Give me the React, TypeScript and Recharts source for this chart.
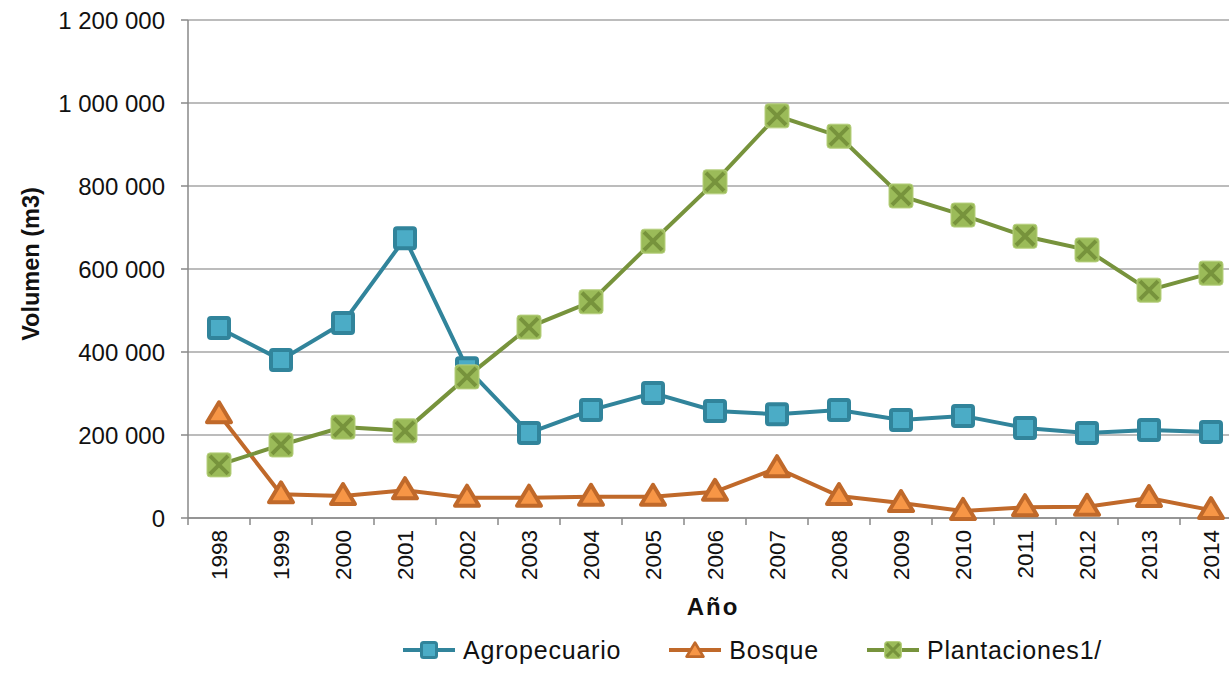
import { LineChart, Line, XAxis, YAxis, CartesianGrid, Legend } from "recharts";

const years = ["1998", "1999", "2000", "2001", "2002", "2003", "2004", "2005", "2006", "2007", "2008", "2009", "2010", "2011", "2012", "2013", "2014"];
const agropecuario = [458000, 381000, 470000, 674000, 361000, 205000, 260000, 301000, 258000, 250000, 260000, 236000, 246000, 217000, 205000, 212000, 207000];
const bosque = [250000, 57000, 53000, 67000, 49000, 49000, 51000, 51000, 63000, 120000, 53000, 36000, 17000, 26000, 27000, 48000, 19000];
const plantaciones = [128000, 176000, 219000, 210000, 340000, 460000, 521000, 667000, 810000, 969000, 920000, 776000, 730000, 679000, 646000, 549000, 590000];
const yTicks = [0, 200000, 400000, 600000, 800000, 1000000, 1200000];

const data = years.map((year, i) => ({
  year,
  agropecuario: agropecuario[i],
  bosque: bosque[i],
  plantaciones: plantaciones[i],
}));

const FONT = "'Liberation Sans', Arial, sans-serif";
const BAND = 62;

const fmt = (v: number) => v.toString().replace(/\B(?=(\d{3})+(?!\d))/g, " ");

function SquareDot({ cx, cy, s = 20 }: any) {
  if (cx == null || cy == null) return null;
  return <rect x={cx - s / 2} y={cy - s / 2} width={s} height={s} rx={2} fill="#4BACC6" stroke="#31849B" strokeWidth={s > 16 ? 4 : 3} />;
}

function TriangleDot({ cx, cy, s = 1 }: any) {
  if (cx == null || cy == null) return null;
  return (
    <polygon
      points={`${cx},${cy - 12 * s} ${cx + 12 * s},${cy + 8 * s} ${cx - 12 * s},${cy + 8 * s}`}
      fill="#F79646"
      stroke="#C0692A"
      strokeWidth={4 * s}
      strokeLinejoin="round"
    />
  );
}

function CrossDot({ cx, cy, s = 24 }: any) {
  if (cx == null || cy == null) return null;
  const h = s / 2;
  const d = h * 0.75;
  return (
    <g>
      <rect x={cx - h} y={cy - h} width={s} height={s} rx={3} fill="#9BBB59" stroke="#B7D07F" strokeWidth={1} />
      <path d={`M${cx - d},${cy - d} L${cx + d},${cy + d} M${cx + d},${cy - d} L${cx - d},${cy + d}`} stroke="#77933C" strokeWidth={s > 18 ? 4 : 3} />
    </g>
  );
}

function YearTick({ x, y, payload }: any) {
  return (
    <g>
      <line x1={x - BAND / 2} y1={y - 8} x2={x - BAND / 2} y2={y - 1} stroke="#888" strokeWidth={1.5} />
      <text
        x={x}
        y={y + 4}
        transform={`rotate(-90, ${x}, ${y + 4})`}
        textAnchor="end"
        dy="0.35em"
        fontSize={22.5}
        fontFamily={FONT}
        fill="#111"
      >
        {payload.value}
      </text>
    </g>
  );
}

const legendIcons: Record<string, (c: number) => any> = {
  agropecuario: (c) => <SquareDot cx={c} cy={15} s={15} />,
  bosque: (c) => <TriangleDot cx={c} cy={16} s={0.7} />,
  plantaciones: (c) => <CrossDot cx={c} cy={15} s={17} />,
};

function LegendContent({ payload }: any) {
  return (
    <div style={{ display: "flex", justifyContent: "flex-start", gap: 48, fontFamily: FONT, fontSize: 25, letterSpacing: 0.8, color: "#111", paddingLeft: 403 }}>
      {(payload || []).map((p: any) => (
        <div key={p.dataKey} style={{ display: "flex", alignItems: "center", gap: 8 }}>
          <svg width={52} height={30}>
            <line x1={0} y1={15} x2={52} y2={15} stroke={p.color} strokeWidth={4} />
            {legendIcons[p.dataKey](26)}
          </svg>
          <span>{p.value}</span>
        </div>
      ))}
    </div>
  );
}

export default function App() {
  return (
    <div style={{ position: "absolute", left: 0, top: 0, width: 1229, height: 675, overflow: "hidden", background: "#fff" }}>
      <LineChart width={1242} height={675} data={data} margin={{ top: 20, right: 0, bottom: 0, left: 0 }}>
        <CartesianGrid vertical={false} stroke="#A6A6A6" strokeWidth={1.5} />
        <XAxis
          dataKey="year"
          height={117}
          padding={{ left: BAND / 2, right: BAND / 2 }}
          stroke="#888"
          strokeWidth={1.5}
          tickLine={false}
          tick={<YearTick />}
          interval={0}
          label={{
            content: () => (
              <text x={713} y={607} textAnchor="middle" dy="0.35em" fontSize={24} letterSpacing={2} fontWeight="bold" fontFamily={FONT} fill="#111">
                Año
              </text>
            ),
          }}
        />
        <YAxis
          width={188}
          domain={[0, 1200000]}
          ticks={yTicks}
          tickFormatter={fmt}
          stroke="#888"
          strokeWidth={1.5}
          tickSize={7}
          tickMargin={16}
          tick={{ fontSize: 24, fontFamily: FONT, fill: "#111" }}
          label={{
            content: () => (
              <text x={31} y={264} transform="rotate(-90, 31, 264)" textAnchor="middle" dy="0.35em" fontSize={23.5} fontWeight="bold" fontFamily={FONT} fill="#111">
                Volumen (m3)
              </text>
            ),
          }}
        />
        <Legend verticalAlign="bottom" height={40} content={<LegendContent />} />
        <Line dataKey="agropecuario" name="Agropecuario" stroke="#31849B" strokeWidth={4} dot={<SquareDot />} isAnimationActive={false} />
        <Line dataKey="bosque" name="Bosque" stroke="#C0692A" strokeWidth={4} dot={<TriangleDot />} isAnimationActive={false} />
        <Line dataKey="plantaciones" name="Plantaciones1/" stroke="#77933C" strokeWidth={4} dot={<CrossDot />} isAnimationActive={false} />
      </LineChart>
    </div>
  );
}
